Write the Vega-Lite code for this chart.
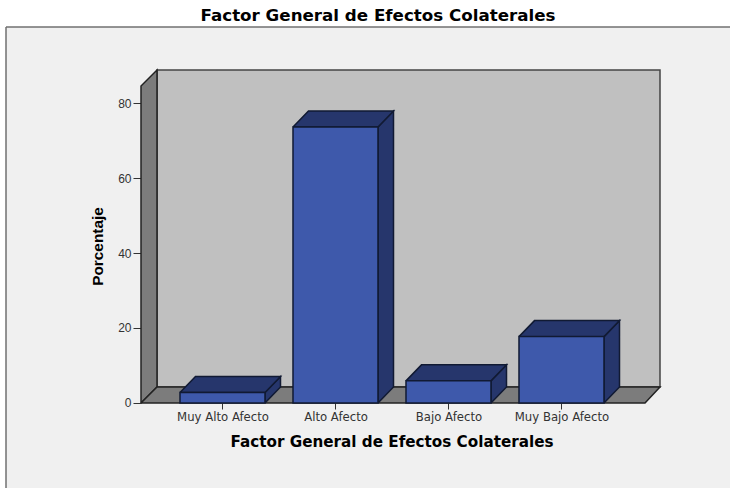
{"$schema":"https://vega.github.io/schema/vega-lite/v6.json","width":724,"height":461,"autosize":{"type":"none"},"padding":{"left":6,"top":27,"right":0,"bottom":0},"background":"#ffffff","view":{"fill":"#f0f0f0","stroke":null},"title":{"text":"Factor General de Efectos Colaterales","font":"DejaVu Sans","fontSize":16.7,"fontWeight":"bold","color":"#000000","anchor":"middle","dx":10,"offset":1.5},"datasets":{"bars":[{"categoria":"Muy Alto Afecto","porcentaje":2.8},{"categoria":"Alto Afecto","porcentaje":73.6},{"categoria":"Bajo Afecto","porcentaje":5.9},{"categoria":"Muy Bajo Afecto","porcentaje":17.7}],"walls":[{"face":"left"},{"face":"floor"}]},"layer":[{"data":{"values":[{}]},"mark":{"type":"rule","stroke":"#707070","strokeWidth":1.5},"encoding":{"x":{"datum":-0.9159,"type":"quantitative","scale":{"domain":[-0.9159,5.4912],"nice":false,"zero":false}}}},{"data":{"values":[{}]},"mark":{"type":"rule","stroke":"#707070","strokeWidth":1.5},"encoding":{"y":{"datum":100.267,"type":"quantitative","scale":{"domain":[-22.667,100.267],"nice":false,"zero":false}}}},{"data":{"values":[{}]},"mark":{"type":"rect","fill":"#c0c0c0","stroke":"#444444","strokeWidth":1.5},"encoding":{"x":{"datum":0.4204,"type":"quantitative"},"x2":{"datum":4.8717},"y":{"datum":4.27,"type":"quantitative"},"y2":{"datum":88.8}}},{"data":{"name":"walls"},"transform":[{"calculate":"[0,1,2,3,4]","as":"k"},{"flatten":["k"]},{"calculate":"({left:[0.2788,0.4204,0.4204,0.2788,0.2788],floor:[0.2788,4.739,4.8717,0.4204,0.2788]})[datum.face][datum.k]","as":"px"},{"calculate":"({left:[0,4.27,88.8,84.53,0],floor:[0,0,4.27,4.27,0]})[datum.face][datum.k]","as":"py"}],"mark":{"type":"line","fill":"#7c7c7c","stroke":"#222222","strokeWidth":1.5,"strokeJoin":"miter"},"encoding":{"x":{"field":"px","type":"quantitative"},"y":{"field":"py","type":"quantitative"},"detail":{"field":"face"},"order":{"field":"k"}}},{"data":{"name":"bars"},"transform":[{"window":[{"op":"row_number","as":"pos"}]},{"calculate":"['side','top']","as":"face"},{"flatten":["face"]},{"calculate":"[0,1,2,3,4]","as":"k"},{"flatten":["k"]},{"calculate":"datum.pos+(datum.face=='side'?[0.3761,0.5133,0.5133,0.3761,0.3761]:[-0.3761,0.3761,0.5133,-0.2389,-0.3761])[datum.k]","as":"px"},{"calculate":"datum.face=='side'?[0,4.27,datum.porcentaje+4.27,datum.porcentaje,0][datum.k]:[datum.porcentaje,datum.porcentaje,datum.porcentaje+4.27,datum.porcentaje+4.27,datum.porcentaje][datum.k]","as":"py"},{"calculate":"datum.categoria+datum.face","as":"poly"}],"mark":{"type":"line","fill":"#26366c","stroke":"#111a33","strokeWidth":1.5,"strokeJoin":"miter"},"encoding":{"x":{"field":"px","type":"quantitative"},"y":{"field":"py","type":"quantitative"},"detail":{"field":"poly"},"order":{"field":"k"}}},{"data":{"name":"bars"},"transform":[{"window":[{"op":"row_number","as":"pos"}]},{"calculate":"datum.pos-0.3761","as":"x0"},{"calculate":"datum.pos+0.3761","as":"x1"}],"mark":{"type":"rect","fill":"#3e59ab","stroke":"#111a33","strokeWidth":1.5},"encoding":{"x":{"field":"x0","type":"quantitative","axis":{"values":[1,2,3,4],"labelExpr":"['Muy Alto Afecto','Alto Afecto','Bajo Afecto','Muy Bajo Afecto'][datum.value-1]","offset":-85,"grid":false,"domain":false,"tickColor":"#333333","tickSize":6,"tickWidth":1,"labelFont":"DejaVu Sans","labelFontSize":11.7,"labelColor":"#333333","labelPadding":2,"labelOverlap":false,"labelBound":false,"labelFlush":false,"title":"Factor General de Efectos Colaterales","titleFont":"DejaVu Sans","titleFontSize":15.2,"titleFontWeight":"bold","titleColor":"#000000","titleX":385.5,"titleY":31}},"x2":{"field":"x1"},"y":{"field":"porcentaje","type":"quantitative","axis":{"values":[0,20,40,60,80],"offset":-135,"grid":false,"domain":false,"tickColor":"#333333","tickSize":8,"tickWidth":1,"labelFont":"Liberation Sans","labelFontSize":12,"labelColor":"#333333","labelPadding":2,"labelOverlap":false,"labelBound":false,"labelFlush":false,"title":"Porcentaje","titleFont":"Liberation Sans","titleFontSize":15.4,"titleFontWeight":"bold","titleColor":"#000000","titlePadding":12,"titleY":219}},"y2":{"datum":0}}}]}
